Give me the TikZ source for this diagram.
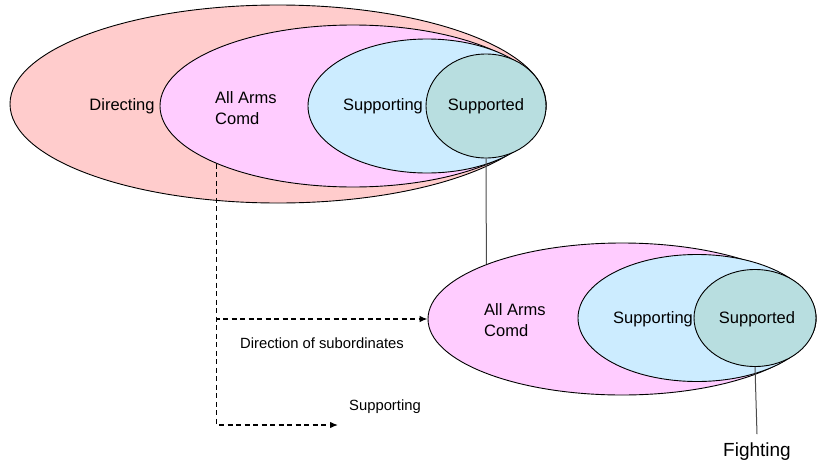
\documentclass[tikz,border=0pt]{standalone}
\usepackage{fontspec}
\setmainfont{Liberation Sans}
\usetikzlibrary{shapes.geometric, arrows.meta}

\definecolor{dirsalmon}{HTML}{FFCCCC}
\definecolor{armspink}{HTML}{FFCCFF}
\definecolor{suppblue}{HTML}{CCECFF}
\definecolor{sptdteal}{HTML}{B8DEE0}

\begin{document}
\begin{tikzpicture}[
        x=1pt, y=-1pt, % one unit per pixel, y goes down
        oval/.style={ellipse, draw, line width=0.9pt, inner sep=0pt}, % the sets
        word/.style={font=\fontsize{16.5}{21}\selectfont, align=left, inner sep=1pt},
        small/.style={font=\fontsize{14.8}{17}\selectfont, inner sep=1pt},
        subord/.style={draw, dash pattern=on 5pt off 3.5pt, line width=1.3pt, -{Latex[length=8pt, width=6.5pt]}},
        link/.style={draw, black!70, line width=1pt},
    ]
    \useasboundingbox (0,0) rectangle (817,466);

    % upper level
    \node[oval, fill=dirsalmon, minimum width=536, minimum height=198] (dir) at (278,104) {};
    \node[oval, fill=armspink, minimum width=386, minimum height=162] (arms) at (353,106) {};
    \node[oval, fill=suppblue, minimum width=238, minimum height=134] (supp) at (427,106) {};
    \node[oval, fill=sptdteal, minimum width=120, minimum height=104] (sptd) at (486,106) {};

    \node[word] (dirtxt) at (122,106) {Directing};
    \node[word, anchor=west] (armstxt) at (214,108) {All Arms\\Comd};
    \node[word] (supptxt) at (383,106) {Supporting};
    \node[word] (sptdtxt) at (486,106) {Supported};

    % lower level
    \node[oval, fill=armspink, minimum width=388, minimum height=152] (arms2) at (622,319) {};
    \node[oval, fill=suppblue, minimum width=238, minimum height=127] (supp2) at (697,318) {};
    \node[oval, fill=sptdteal, minimum width=122, minimum height=97] (sptd2) at (755,318) {};

    \node[word, anchor=west] (arms2txt) at (483,320) {All Arms\\Comd};
    \node[word] (supp2txt) at (653,319) {Supporting};
    \node[word] (sptd2txt) at (757,319) {Supported};

    \node[font=\fontsize{19}{22}\selectfont, inner sep=2pt, outer sep=7pt] (fight) at (757,452) {Fighting};

    % connectors
    \draw[link] (sptd.south) -- (arms2.158);
    \draw[link] (sptd2.south) -- (fight.north);

    \coordinate (suppend) at (338,425);
    \draw[subord] (arms.203) |- (arms2.west);
    \draw[subord] (arms.203) |- (suppend);

    \node[small] (dirlbl) at (322,343) {Direction of subordinates};
    \node[small] (supplbl) at (385,407) {Supporting};
\end{tikzpicture}
\end{document}
